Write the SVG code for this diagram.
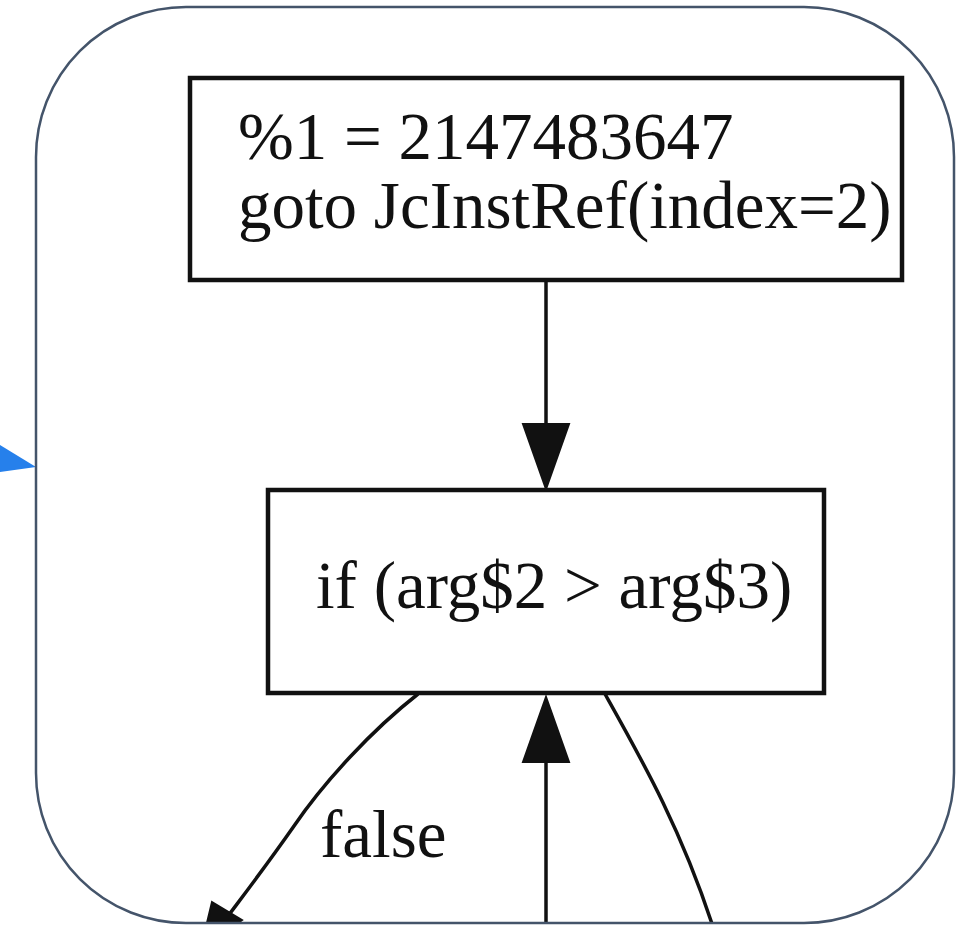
<svg xmlns="http://www.w3.org/2000/svg" width="957" height="926" viewBox="0 0 957 926">
  <style>
    .node { fill: #ffffff; stroke: #111111; stroke-width: 4.5; }
    .lbl { font-family: "Liberation Serif", "Times New Roman", serif; font-size: 67px; fill: #111111; }
    .edge { fill: none; stroke: #111111; stroke-width: 3.5; }
    .head { fill: #111111; stroke: #111111; stroke-width: 2; }
    .frame { fill: none; stroke: #44546a; stroke-width: 2.5; }
  </style>
  <defs>
    <clipPath id="frameClip">
      <rect x="36" y="7" width="918" height="916" rx="150" ry="150"/>
    </clipPath>
  </defs>
  <rect x="0" y="0" width="957" height="926" fill="#ffffff"/>
  <polygon id="entry-arrow" points="0,445 36,467 0,472" fill="#2680eb"/>
  <g clip-path="url(#frameClip)">
    <g id="connectors">
      <line class="edge" x1="546" y1="281" x2="546" y2="425"/>
      <polygon class="head" points="523,424 569,424 546,489"/>
      <path class="edge" d="M418,694 C372,730 324,782 294,826 C266,866 246,892 228,916"/>
      <polygon class="head" points="212,902 242,920 200,952"/>
      <text class="lbl" x="320" y="857">false</text>
      <line class="edge" x1="546" y1="760" x2="546" y2="930"/>
      <polygon class="head" points="523,762 569,762 546,697"/>
      <path class="edge" d="M605,694 C642,760 682,830 714,930"/>
    </g>
    <g id="node-1">
      <rect class="node" x="190" y="78" width="712" height="202"/>
      <text class="lbl" x="238" y="159">%1 = 2147483647</text>
      <text class="lbl" x="238" y="228">goto JcInstRef(index=2)</text>
    </g>
    <g id="node-2">
      <rect class="node" x="268" y="490" width="556" height="203"/>
      <text class="lbl" x="316" y="608">if (arg$2 &gt; arg$3)</text>
    </g>
  </g>
  <rect class="frame" x="36" y="7" width="918" height="916" rx="150" ry="150"/>
</svg>
